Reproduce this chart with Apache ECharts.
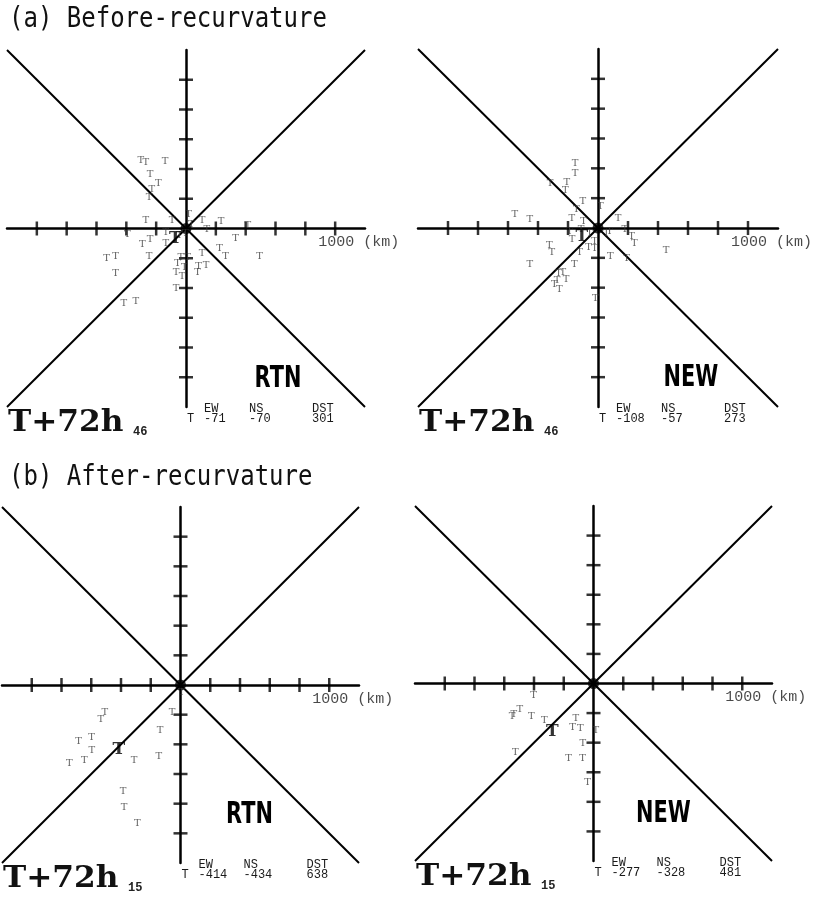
<!DOCTYPE html>
<html>
<head>
<meta charset="utf-8">
<title>T+72h position errors</title>
<script src="https://cdn.jsdelivr.net/npm/echarts@6/dist/echarts.min.js"></script>
<style>
  html, body { margin: 0; padding: 0; background: #fff; }
  #chart { width: 819px; height: 899px; }
</style>
</head>
<body>
<div id="chart"></div>
<script>
// axes run to +-1200 km, ticks every 200 km
const axisMin = -1200;
const axisMax = 1200;
const tickValues = [-1000, -800, -600, -400, -200, 200, 400, 600, 800, 1000];
const diagonalUp = [[-1200, -1200], [1200, 1200]];
const diagonalDown = [[-1200, 1200], [1200, -1200]];

// member positions at T+72h, [EW km, NS km] relative to best track
const beforeRtn = [
  [-303, 459], [-270, 447], [-140, 452], [-241, 362], [-185, 305], [-229, 261],
  [-247, 211], [-270, 54], [-94, 54], [18, 92], [108, 54], [236, 49], [415, 20],
  [139, -9], [-394, -42], [-135, -29], [332, -65], [-241, -74], [-293, -110],
  [-135, -99], [108, -167], [225, -133], [265, -189], [494, -187], [-472, -187],
  [-533, -204], [-247, -189], [-34, -194], [11, -194], [-57, -238], [-11, -261],
  [85, -256], [135, -249], [78, -295], [-67, -295], [-27, -324], [-472, -305],
  [-67, -400], [-416, -501], [-337, -490], [-5, -34], [-45, -47], [36, 27]
];
const beforeNew = [
  [-152, 432], [-152, 365], [-320, 302], [-208, 306], [-217, 251], [-101, 179],
  [16, 145], [-145, 123], [-555, 89], [-454, 56], [-174, 67], [-96, 45], [134, 67],
  [-190, -22], [-112, -11], [-172, -74], [78, -22], [179, -11], [224, -56],
  [242, -101], [454, -150], [-324, -119], [-307, -161], [-123, -163], [-63, -128],
  [-22, -134], [83, -190], [190, -201], [-454, -242], [-157, -246], [-262, -302],
  [-235, -298], [-213, -347], [-291, -380], [-257, -414], [-273, -353], [-18, -470],
  [-56, -34], [-22, -89], [56, -34]
];
const afterRtn = [
  [-509, -183], [-536, -234], [-685, -379], [-598, -350], [-596, -440], [-748, -529],
  [-647, -507], [-312, -507], [-56, -187], [-138, -306], [-145, -480], [-386, -719],
  [-379, -826], [-290, -935], [7, -49]
];
const afterNew = [
  [-402, -78], [-548, -224], [-536, -206], [-496, -174], [-418, -224], [-331, -250],
  [-118, -237], [-141, -295], [-89, -304], [16, -317], [-72, -407], [-525, -463],
  [-168, -507], [-74, -507], [-40, -671]
];

// mean error [EW, NS, DST]
const beforeRtnStats = [-71, -70, 301];
const beforeNewStats = [-108, -57, 273];
const afterRtnStats = [-414, -434, 638];
const afterNewStats = [-277, -328, 481];

const caseCounts = [46, 46, 15, 15];
const panelTags = ['RTN', 'NEW', 'RTN', 'NEW'];
const sectionTitles = ['(a) Before-recurvature', '(b) After-recurvature'];

const members = [beforeRtn, beforeNew, afterRtn, afterNew];
const stats = [beforeRtnStats, beforeNewStats, afterRtnStats, afterNewStats];

// layout of the four panels (pixels)
const grids = [
  { left: 7, top: 50, width: 358, height: 357 },
  { left: 418, top: 49, width: 360, height: 358 },
  { left: 2, top: 507, width: 357, height: 356 },
  { left: 415, top: 506, width: 357, height: 355 }
];
const tagOffsets = [[92, -28], [93, -29], [69, -48], [70, -47]];

const mono = '"Liberation Mono", "DejaVu Sans Mono", monospace';
const serif = '"DejaVu Serif", "Liberation Serif", serif';

const chart = echarts.init(document.getElementById('chart'));

const xAxes = [];
const yAxes = [];
const series = [];
const graphic = [];

grids.forEach((g, i) => {
  const axisBase = {
    type: 'value', gridIndex: i, min: axisMin, max: axisMax,
    axisLine: { show: true, onZero: true, lineStyle: { color: '#000', width: 2.5 } },
    axisTick: { show: false }, axisLabel: { show: false }, splitLine: { show: false }
  };
  xAxes.push({ ...axisBase });
  yAxes.push({ ...axisBase });

  const ax = { xAxisIndex: i, yAxisIndex: i, silent: true };
  [diagonalUp, diagonalDown].forEach(d => {
    series.push({
      ...ax, type: 'line', data: d, symbol: 'none', z: 2,
      lineStyle: { color: '#000', width: 2 }
    });
  });
  series.push({
    ...ax, type: 'scatter', symbol: 'rect', symbolSize: [2.5, 14], z: 3,
    itemStyle: { color: '#000' }, data: tickValues.map(v => [v, 0])
  });
  series.push({
    ...ax, type: 'scatter', symbol: 'rect', symbolSize: [14, 2.5], z: 3,
    itemStyle: { color: '#000' }, data: tickValues.map(v => [0, v])
  });
  series.push({
    ...ax, type: 'scatter', symbolSize: 11, z: 4,
    itemStyle: { color: '#000' }, data: [[0, 0]]
  });
  series.push({
    ...ax, type: 'scatter', symbolSize: 1, z: 5,
    itemStyle: { color: 'transparent' }, data: members[i],
    label: {
      show: true, position: 'inside', formatter: 'T',
      fontFamily: serif, fontSize: 10, color: '#3a3a3a'
    }
  });
  series.push({
    ...ax, type: 'scatter', symbolSize: 1, z: 6,
    itemStyle: { color: 'transparent' }, data: [stats[i].slice(0, 2)],
    label: {
      show: true, position: 'inside', formatter: 'T',
      fontFamily: serif, fontSize: 17, fontWeight: 'bold', color: '#000'
    }
  });
  series.push({
    ...ax, type: 'scatter', symbolSize: 1, z: 6,
    itemStyle: { color: 'transparent' }, data: [[1000, 0]],
    label: {
      show: true, position: 'inside', formatter: '1000 (km)', align: 'left',
      offset: [-17, 14], fontFamily: mono, fontSize: 15, color: '#1a1a1a'
    }
  });

  const cx = g.left + g.width / 2;
  const bottom = g.top + g.height;
  const small = { fontFamily: mono, fontSize: 12, fill: '#1a1a1a', verticalAlign: 'top' };
  const head = [['EW', 18], ['NS', 63], ['DST', 126]];
  head.forEach(([t, dx]) => {
    graphic.push({ type: 'text', x: cx + dx, y: bottom - 4, style: { ...small, text: t } });
  });
  graphic.push({ type: 'text', x: cx + 1, y: bottom + 6, style: { ...small, text: 'T' } });
  stats[i].forEach((v, k) => {
    graphic.push({ type: 'text', x: cx + head[k][1], y: bottom + 6, style: { ...small, text: String(v) } });
  });
  graphic.push({
    type: 'text', x: g.left + 1, y: bottom + 31, scaleX: 1.04,
    style: { text: 'T+72h', fontFamily: serif, fontSize: 30, fontWeight: 'bold', fill: '#111', verticalAlign: 'bottom' }
  });
  graphic.push({
    type: 'text', x: g.left + 126, y: bottom + 31,
    style: { text: String(caseCounts[i]), fontFamily: mono, fontSize: 12, fontWeight: 'bold', fill: '#222', verticalAlign: 'bottom' }
  });
  graphic.push({
    type: 'text', x: cx + tagOffsets[i][0], y: bottom + tagOffsets[i][1], scaleX: 0.72, scaleY: 1.05,
    style: {
      text: panelTags[i], fontFamily: '"DejaVu Sans", sans-serif',
      fontSize: 29, fontWeight: 'bold', fill: '#000', align: 'center', verticalAlign: 'middle'
    }
  });
});

sectionTitles.forEach((t, k) => {
  graphic.push({
    type: 'text', x: 9, y: k === 0 ? 20 : 478, scaleY: 1.15,
    style: { text: t, fontFamily: '"DejaVu Sans Mono", monospace', fontSize: 24, fill: '#111', verticalAlign: 'middle' }
  });
});

chart.setOption({
  animation: false,
  backgroundColor: '#fff',
  grid: grids,
  xAxis: xAxes,
  yAxis: yAxes,
  series,
  graphic
});

window.addEventListener('resize', () => chart.resize());
</script>
</body>
</html>
